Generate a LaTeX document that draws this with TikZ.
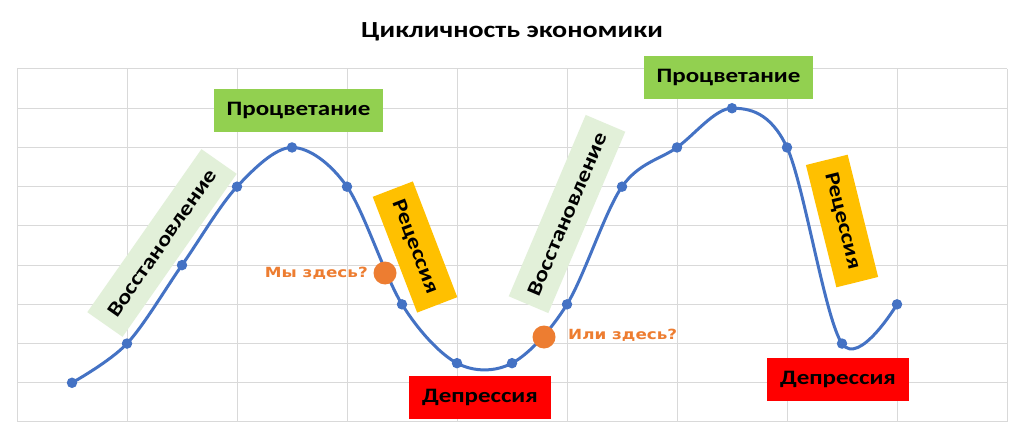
\documentclass[tikz,border=0pt]{standalone}
\usepackage{fontspec}
\setmainfont{Carlito}
\newfontfamily\lblfont[FakeStretch=1.22]{Carlito}
\newfontfamily\markfont[FakeStretch=1.2]{DejaVu Sans}
\definecolor{gridc}{HTML}{D9D9D9}
\definecolor{lineblue}{HTML}{4472C4}
\definecolor{prosp}{HTML}{92D050}
\definecolor{recov}{HTML}{E2F0D9}
\definecolor{recess}{HTML}{FFC000}
\definecolor{depr}{HTML}{FF0000}
\definecolor{markor}{HTML}{ED7D31}
\tikzset{
  phase/.style={inner sep=0pt, minimum height=43pt, font=\lblfont\bfseries\fontsize{20.5}{22}\selectfont, text=black},
  ptdot/.style={circle, fill=lineblue, inner sep=0pt, minimum size=10.5pt},
  here/.style={circle, fill=markor, inner sep=0pt, minimum size=23pt},
  heretext/.style={text=markor, font=\markfont\bfseries\fontsize{14}{16}\selectfont, inner sep=0pt},
}
\begin{document}
\begin{tikzpicture}[x=1pt,y=-1pt]
\useasboundingbox (0,0) rectangle (1024,438);
\fill[white] (0,0) rectangle (1024,438);
% grid
\foreach \i in {0,...,9} \draw[gridc, line width=1pt] (17+110*\i,69) -- (17+110*\i,422);
\foreach \j in {0,...,9} \draw[gridc, line width=1pt] (17,69+39.22*\j) -- (1007,69+39.22*\j);
% title
\node[font=\lblfont\bfseries\fontsize{23}{26}\selectfont] (title) at (512,32) {Цикличность экономики};
% data points
\foreach \n/\lv [count=\k from 0] in {0/1,1/2,2/4,3/6,4/7,5/6,6/3,7/1.5,8/1.5,9/3,10/6,11/7,12/8,13/7,14/2,15/3}
  \coordinate (p\n) at (72+55*\n, 422-39.22*\lv);
\draw[lineblue, line width=3pt, line join=round] plot[smooth, tension=0.55] coordinates {(p0) (p1) (p2) (p3) (p4) (p5) (p6) (p7) (p8) (p9) (p10) (p11) (p12) (p13) (p14) (p15)};
\foreach \n in {0,...,15} \node[ptdot] (d\n) at (p\n) {};
% phase labels
\node[phase, fill=recov, minimum width=199pt, rotate=55] (rec1) at (162,243) {Восстановление};
\node[phase, fill=prosp, minimum width=169pt] (pro1) at (298.5,110.5) {Процветание};
\node[phase, fill=recess, minimum width=124pt, rotate=-69] (rcs1) at (415,247) {Рецессия};
\node[phase, fill=depr, minimum width=142pt] (dep1) at (480,397.5) {Депрессия};
\node[phase, fill=recov, minimum width=197pt, rotate=67] (rec2) at (567,214) {Восстановление};
\node[phase, fill=prosp, minimum width=169pt] (pro2) at (728.5,77.5) {Процветание};
\node[phase, fill=recess, minimum width=126pt, rotate=-76] (rcs2) at (842,221) {Рецессия};
\node[phase, fill=depr, minimum width=142pt] (dep2) at (838,379.5) {Депрессия};
% markers
\node[here] (h1) at (385,273) {};
\node[heretext, anchor=east] (t1) at (368,273) {Мы здесь?};
\node[here] (h2) at (544,337) {};
\node[heretext, anchor=west] (t2) at (568,335) {Или здесь?};
\end{tikzpicture}
\end{document}
